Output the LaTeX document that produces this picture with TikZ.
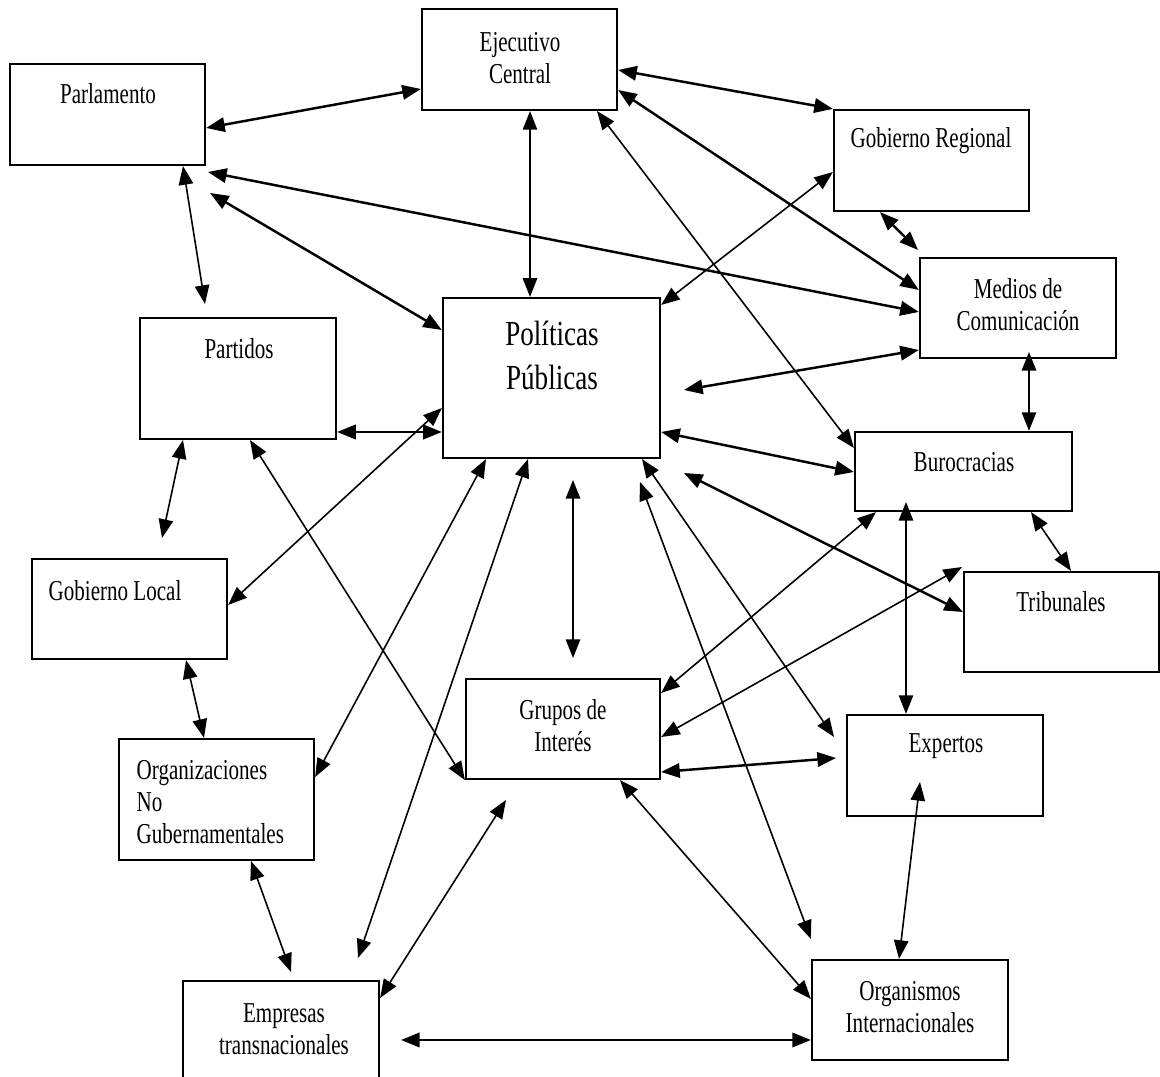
\documentclass[tikz,border=0pt]{standalone}
\usepackage{fontspec}
\setmainfont{Liberation Serif}[FakeStretch=0.73]
\newfontfamily\bigserif{Liberation Serif}[FakeStretch=0.77]
\usetikzlibrary{arrows.meta}

\tikzset{
  box/.style={draw,line width=0.6pt,rectangle,inner sep=0pt},
  txt/.style={font=\fontsize{8.2}{9.1}\selectfont,align=center,inner sep=0pt},
  bigtxt/.style={font=\bigserif\fontsize{10}{12.5}\selectfont,align=center,inner sep=0pt},
  arr/.style={{Triangle[length=5.3pt,width=4.1pt]}-{Triangle[length=5.3pt,width=4.1pt]},line width=0.45pt},
  arrthick/.style={arr,line width=0.7pt}
}

\begin{document}
\begin{tikzpicture}[x=0.01cm,y=-0.01cm]

		\clip (0,0) rectangle (1160,1077);

		% boxes
		\node[box,minimum width=1.95cm,minimum height=1.01cm] (ejec) at (519.5,59.5) {};
		\node[box,minimum width=1.95cm,minimum height=1.01cm] (parl) at (107.5,114.5) {};
		\node[box,minimum width=1.95cm,minimum height=1.01cm] (gobreg) at (931.5,160.5) {};
		\node[box,minimum width=1.96cm,minimum height=1.00cm] (medios) at (1018,308) {};
		\node[box,minimum width=2.17cm,minimum height=1.60cm] (pol) at (551.5,378) {};
		\node[box,minimum width=1.96cm,minimum height=1.21cm] (part) at (238,378.5) {};
		\node[box,minimum width=2.17cm,minimum height=0.79cm] (buro) at (963.5,471.5) {};
		\node[box,minimum width=1.95cm,minimum height=1.00cm] (trib) at (1061.5,622) {};
		\node[box,minimum width=1.95cm,minimum height=1.00cm] (gobloc) at (129.5,609) {};
		\node[box,minimum width=1.94cm,minimum height=1.00cm] (grupos) at (563,729) {};
		\node[box,minimum width=1.96cm,minimum height=1.01cm] (expertos) at (945,765.5) {};
		\node[box,minimum width=1.95cm,minimum height=1.21cm] (ong) at (216.5,799.5) {};
		\node[box,minimum width=1.96cm,minimum height=1.21cm] (empresas) at (281,1041.5) {};
		\node[box,minimum width=1.96cm,minimum height=1.00cm] (orgint) at (910,1010) {};

		% texts
		\node[txt] (ejecT) at (520,58) {Ejecutivo\\Central};
		\node[txt] (parlT) at (108,94) {Parlamento};
		\node[txt] (gobregT) at (931,141) {Gobierno Regional};
		\node[txt] (mediosT) at (1018,305) {Medios de\\Comunicación};
		\node[bigtxt] (polT) at (552,355) {Políticas\\Públicas};
		\node[txt] (partT) at (239,349) {Partidos};
		\node[txt] (buroT) at (964,462) {Burocracias};
		\node[txt] (tribT) at (1061,602) {Tribunales};
		\node[txt] (goblocT) at (115,591) {Gobierno Local};
		\node[txt] (gruposT) at (563,726) {Grupos de\\Interés};
		\node[txt] (expertosT) at (946,746) {Expertos};
		\node[txt,anchor=west,align=left] (ongT) at (136,802) {Organizaciones\\No\\Gubernamentales};
		\node[txt] (empresasT) at (284,1029) {Empresas\\transnacionales};
		\node[txt] (orgintT) at (910,1007) {Organismos\\Internacionales};

		% free ends
		\coordinate (partTop) at (205,304);
		\coordinate (parlA) at (208,172);
		\coordinate (parlB) at (210,193);
		\coordinate (mediosTop) at (918,250);
		\coordinate (goblocTop) at (162,538);
		\coordinate (polBot) at (573,480);
		\coordinate (gruposTop) at (573,658);
		\coordinate (polRightA) at (684,390);
		\coordinate (polRightB) at (684,473);
		\coordinate (mediosIn) at (1029,352);
		\coordinate (tribCorner) at (962,567);
		\coordinate (buroIn) at (906,502);
		\coordinate (expLeftA) at (834,737);
		\coordinate (expLeftB) at (836,758);
		\coordinate (expIn) at (920,782);
		\coordinate (polBotC) at (640,482);
		\coordinate (empTopA) at (358,958);
		\coordinate (empTopB) at (291,972);
		\coordinate (gruposBot) at (506,800);
		\coordinate (empRight) at (401,1040);

		% connectors
		\draw[arrthick] (parl.east |- 0,128) -- (ejec.west |- 0,89);
		\draw[arr] (ejec.south -| 530,0) -- (pol.north -| 530,0);
		\draw[arr] (parl.south -| 183,0) -- (partTop);
		\draw[arrthick] (parlA) -- (medios.west |- 0,312);
		\draw[arrthick] (parlB) -- (pol.west |- 0,330);
		\draw[arr] (ejec.south -| 597,0) -- (buro.west |- 0,448);
		\draw[arrthick] (ejec.east |- 0,70) -- (gobreg.north west);
		\draw[arrthick] (ejec.east |- 0,90) -- (medios.west |- 0,290);
		\draw[arrthick] (gobreg.south -| 880,0) -- (mediosTop);
		\draw[arr] (gobreg.west |- 0,172) -- (pol.east |- 0,305);
		\draw[arrthick] (part.east |- 0,432) -- (pol.west |- 0,432);
		\draw[arr] (pol.west |- 0,408) -- (gobloc.east |- 0,605);
		\draw[arr] (part.south -| 183,0) -- (goblocTop);
		\draw[arr] (part.south -| 250,0) -- (grupos.south west);
		\draw[arr] (pol.south -| 486,0) -- (ong.east |- 0,777);
		\draw[arr] (pol.south -| 528,0) -- (empTopA);
		\draw[arr] (polBot) -- (gruposTop);
		\draw[arrthick] (polRightA) -- (medios.west |- 0,350);
		\draw[arrthick] (pol.east |- 0,432) -- (buro.west |- 0,472);
		\draw[arr] (mediosIn) -- (buro.north -| 1029,0);
		\draw[arr] (buro.south -| 1031,0) -- (trib.north -| 1071,0);
		\draw[arrthick] (polRightB) -- (trib.west |- 0,612);
		\draw[arr] (buro.south -| 876,0) -- (grupos.east |- 0,693);
		\draw[arr] (tribCorner) -- (grupos.east |- 0,737);
		\draw[arr] (buroIn) -- (expertos.north -| 906,0);
		\draw[arr] (pol.south -| 642,0) -- (expLeftA);
		\draw[arr] (polBotC) -- (orgint.west |- 0,939);
		\draw[arrthick] (grupos.east |- 0,772) -- (expLeftB);
		\draw[arr] (expIn) -- (orgint.north -| 899,0);
		\draw[arr] (grupos.south -| 620,0) -- (orgint.west |- 0,999);
		\draw[arrthick] (empRight) -- (orgint.west |- 0,1040);
		\draw[arr] (gobloc.south -| 186,0) -- (ong.north -| 204,0);
		\draw[arr] (ong.south -| 251,0) -- (empTopB);
		\draw[arr] (gruposBot) -- (empresas.east |- 0,998);

	\end{tikzpicture}
\end{document}
